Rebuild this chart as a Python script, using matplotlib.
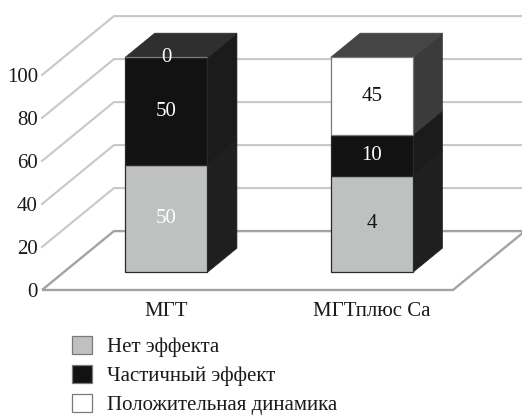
import matplotlib
matplotlib.use("Agg")
import matplotlib.pyplot as plt
from matplotlib.patches import Polygon, Patch

plt.rcParams['font.family'] = ['Liberation Serif', 'DejaVu Serif']

# data
categories = ["МГТ", "МГТплюс Ca"]
series_names = ["Нет эффекта", "Частичный эффект", "Положительная динамика"]
no_effect = [50, 45]
partial_effect = [50, 19]
positive_dyn = [0, 36]
no_effect_lbl = ["50", "4"]
partial_lbl = ["50", "10"]
positive_lbl = ["0", "45"]
yticks = [0, 20, 40, 60, 80, 100]

values = [no_effect, partial_effect, positive_dyn]
labels = [no_effect_lbl, partial_lbl, positive_lbl]

# styling
front_col = ["#bfc1c1", "#121212", "#ffffff"]
side_col = ["#1f1f1f", "#1b1b1b", "#3b3b3b"]
top_col = ["#666666", "#2f2f2f", "#454545"]
edge_col = ["#2a2a2a", "#2a2a2a", "#7a7a7a"]
lbl_col = [["white", "#111111"], ["white", "white"], ["white", "#111111"]]

grid_col = "#c8c8c8"
floor_col = "#a3a3a3"
txt_col = "#1a1a1a"
fs = 15

# oblique depth of the floor (in data units) and bar geometry
Dx, Dy = 0.35, 27.4
f0, fd = 0.30, 0.41
bar_w = 0.40

fig = plt.figure(figsize=(5.22, 4.16), dpi=100)
ax = fig.add_axes([42/522, (416-290)/416, 411/522, 215/416])
ax.set_xlim(-0.5, 1.5)
ax.set_ylim(0, 100)
for s in ax.spines.values():
    s.set_visible(False)

# back wall grid + connectors
for v in yticks[1:]:
    ax.plot([-0.5, -0.5 + Dx, 1.5 + Dx], [v, v + Dy, v + Dy],
            color=grid_col, lw=1.5, clip_on=False, zorder=1)
# floor
floor = Polygon([(-0.5, 0), (1.5, 0), (1.5 + Dx, Dy), (-0.5 + Dx, Dy)],
                closed=True, fill=False, edgecolor=floor_col, lw=1.7,
                clip_on=False, zorder=1)
ax.add_patch(floor)

dx, dy = fd * Dx, fd * Dy
for i in range(len(categories)):
    left = i + f0 * Dx - bar_w / 2
    base = f0 * Dy
    bottom = base
    top_series = 0
    for k in range(len(values)):
        h = values[k][i]
        if h > 0:
            top_series = k
        side = Polygon([(left + bar_w, bottom), (left + bar_w + dx, bottom + dy),
                        (left + bar_w + dx, bottom + h + dy), (left + bar_w, bottom + h)],
                       closed=True, facecolor=side_col[k], edgecolor=side_col[k],
                       lw=0.5, clip_on=False, zorder=3)
        ax.add_patch(side)
        front = Polygon([(left, bottom), (left + bar_w, bottom),
                         (left + bar_w, bottom + h), (left, bottom + h)],
                        closed=True, facecolor=front_col[k], edgecolor=edge_col[k],
                        lw=0.9, clip_on=False, zorder=4)
        ax.add_patch(front)
        ax.text(left + bar_w / 2, bottom + h / 2, labels[k][i], ha="center",
                va="center", fontsize=fs, color=lbl_col[k][i], zorder=6)
        bottom += h
    top = Polygon([(left, bottom), (left + dx, bottom + dy),
                   (left + bar_w + dx, bottom + dy), (left + bar_w, bottom)],
                  closed=True, facecolor=top_col[top_series],
                  edgecolor=top_col[top_series], lw=0.5, clip_on=False, zorder=3)
    ax.add_patch(top)

ax.set_yticks(yticks)
ax.set_yticklabels([str(t) for t in yticks], fontsize=fs, color=txt_col)
ax.set_xticks([i + f0 * Dx for i in range(len(categories))])
ax.set_xticklabels(categories, fontsize=fs, color=txt_col)
ax.tick_params(axis="y", length=0, pad=3)
ax.tick_params(axis="x", length=0, pad=9)

handles = [Patch(facecolor=front_col[k], edgecolor="#7a7a7a", lw=0.9)
           for k in range(len(series_names))]
fig.legend(handles, series_names, loc="upper left",
           bbox_to_anchor=(72/522, 1 - 336/416), frameon=False, fontsize=fs,
           handlelength=0.96, handleheight=0.96, handletextpad=0.72,
           labelspacing=0.37, borderpad=0, borderaxespad=0, labelcolor=txt_col)

fig.savefig("out.png", dpi=100)
